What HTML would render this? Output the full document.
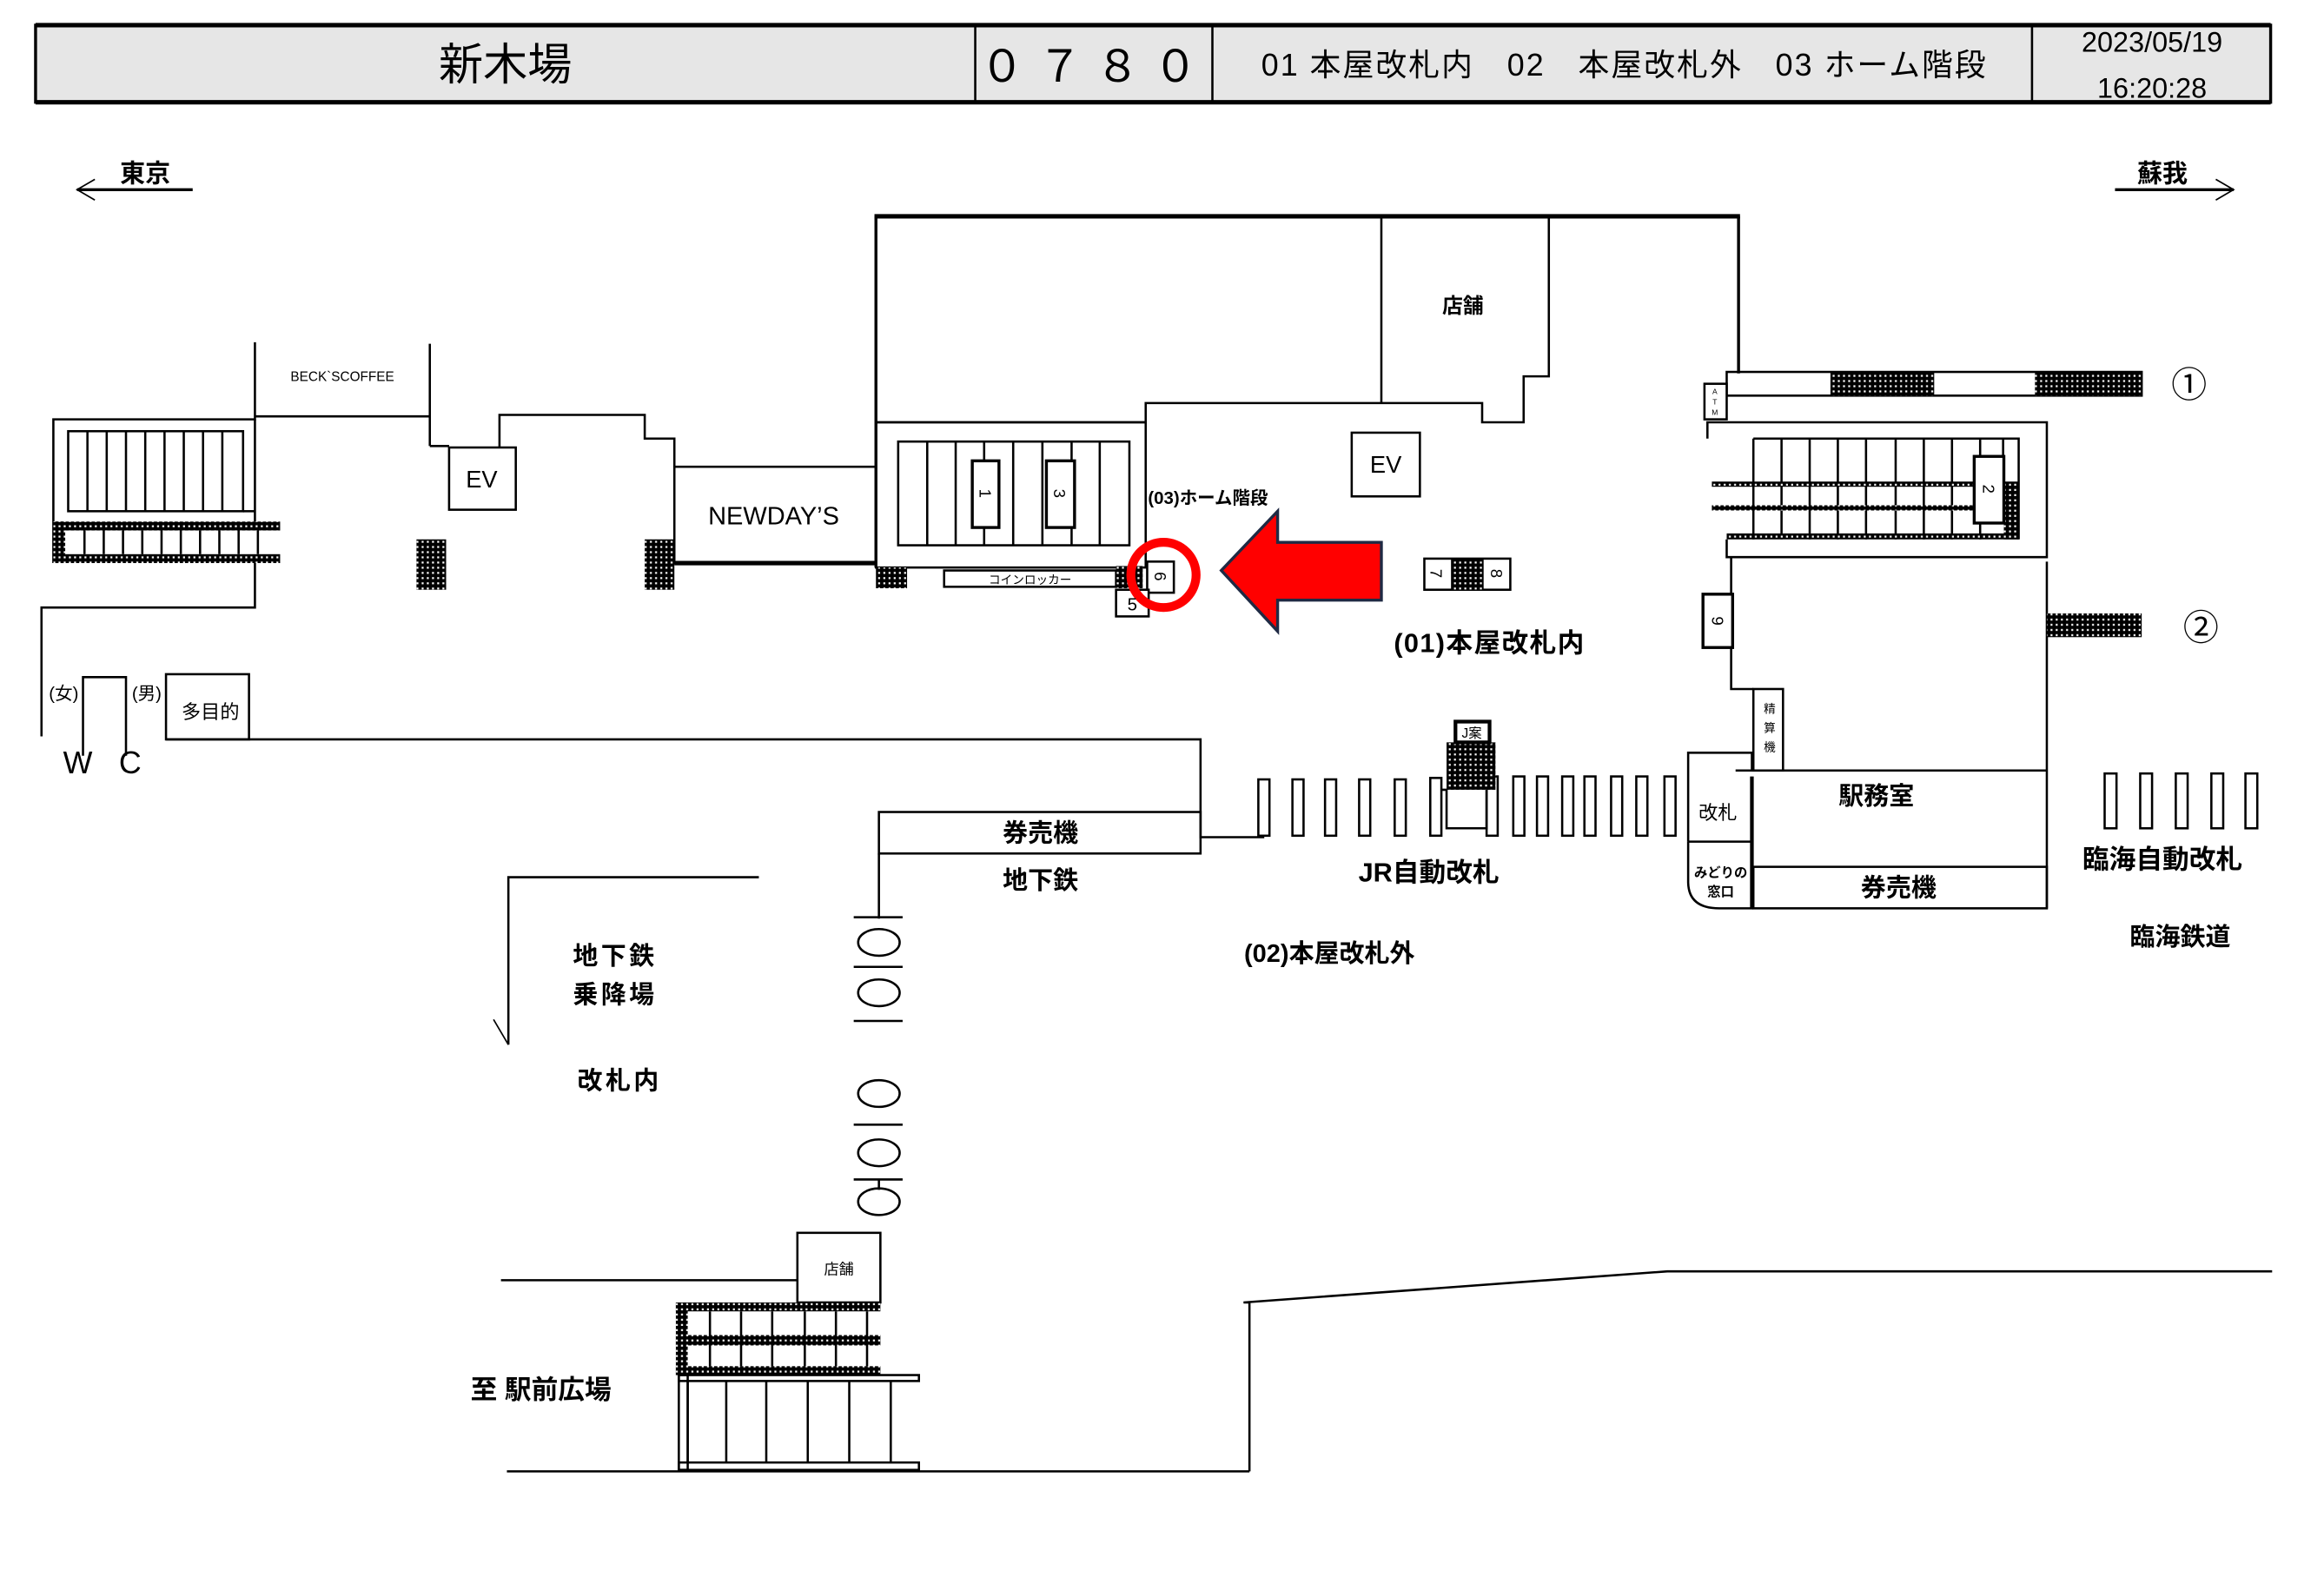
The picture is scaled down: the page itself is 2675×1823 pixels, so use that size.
<!DOCTYPE html>
<html><head><meta charset="utf-8"><style>
html,body{margin:0;padding:0;background:#fff;}
svg{display:block;}
text{font-family:"Liberation Sans","Noto Sans CJK JP",sans-serif;fill:#000;}
.b{font-weight:bold;}
</style></head><body>
<svg width="2675" height="1823" viewBox="0 0 1568 1069" preserveAspectRatio="none" xmlns="http://www.w3.org/2000/svg">
<defs>
<pattern id="h" width="3.5" height="3.5" patternUnits="userSpaceOnUse"><rect width="3.5" height="3.5" fill="#000"/><rect x="1" y="1" width="1.3" height="1.3" fill="#fff"/></pattern>
</defs>
<rect width="1568" height="1069" fill="#fff"/>
<g fill="none" stroke="#000" stroke-width="1.5">
<rect x="24" y="17" width="1508" height="52" fill="#e6e6e6" stroke-width="2"/>
<line x1="24" y1="17" x2="1532" y2="17" stroke-width="3"/>
<line x1="24" y1="69" x2="1532" y2="69" stroke-width="3"/>
<line x1="658" y1="17" x2="658" y2="69"/><line x1="818" y1="17" x2="818" y2="69"/><line x1="1371" y1="17" x2="1371" y2="69"/>
<line x1="52" y1="128" x2="130" y2="128" stroke-width="2"/><polyline points="64,121 52,128 64,135" stroke-width="1"/>
<line x1="1427" y1="128" x2="1507" y2="128" stroke-width="2"/><polyline points="1495,121 1507,128 1495,135" stroke-width="1"/>

<line x1="590" y1="146" x2="1174" y2="146" stroke-width="3"/>
<line x1="591" y1="146" x2="591" y2="383" stroke-width="2"/>
<line x1="1173" y1="146" x2="1173" y2="252" stroke-width="2"/>
<polyline points="591,285 773,285 773,272 1000,272 1000,285 1028,285 1028,254 1045,254 1045,146"/>
<line x1="932" y1="146" x2="932" y2="272"/>

<rect x="591" y="285" width="182" height="98"/>
<rect x="606" y="298" width="156" height="70"/>
<path d="M625.6 298V368M644.8 298V368M664 298V368M683.6 298V368M703.3 298V368M723 298V368M742 298V368"/>
<rect x="656" y="311" width="18" height="45" fill="#fff" stroke-width="2"/>
<rect x="706" y="311" width="19" height="45" fill="#fff" stroke-width="2"/>
<rect x="591" y="383" width="21" height="14" fill="url(#h)" stroke="none"/>
<rect x="637" y="385" width="116" height="11" fill="#fff"/>
<rect x="753" y="382" width="18" height="15" fill="url(#h)" stroke="none"/>
<rect x="774" y="379" width="18" height="21" fill="#fff"/>
<rect x="753" y="398" width="22" height="18" fill="#fff"/>

<polyline points="172,231 172,283 36,283 36,380"/>
<polyline points="172,281 290,281"/><line x1="290" y1="232" x2="290" y2="301"/>
<rect x="46" y="291" width="118" height="54"/>
<path d="M59 291V345M72 291V345M85 291V345M98 291V345M111 291V345M124 291V345M137 291V345M150 291V345"/>
<line x1="164" y1="345" x2="172" y2="345"/><line x1="172" y1="283" x2="172" y2="352"/>
<rect x="36" y="352" width="153" height="6" fill="url(#h)" stroke="none"/>
<rect x="36" y="374" width="153" height="6" fill="url(#h)" stroke="none"/>
<rect x="36" y="352" width="8" height="28" fill="url(#h)" stroke="none"/>
<path d="M57 358V374M70 358V374M83 358V374M96 358V374M109 358V374M122 358V374M135 358V374M148 358V374M161 358V374M174 358V374"/>
<polyline points="172,380 172,410 28,410 28,497"/>
<polyline points="290,301 303,301"/>
<rect x="303" y="302" width="45" height="42"/>
<polyline points="337,302 337,280 435,280 435,296 455,296 455,315"/>
<rect x="281" y="364" width="20" height="34" fill="url(#h)" stroke="none"/>
<rect x="435" y="364" width="20" height="34" fill="url(#h)" stroke="none"/>
<rect x="455" y="315" width="136" height="65"/>
<line x1="455" y1="380" x2="591" y2="380" stroke-width="3"/>
<polyline points="56,510 56,457 85,457 85,510"/>
<rect x="112" y="455" width="56" height="44"/>
<polyline points="112,499 810,499 810,565 853,565"/>
<rect x="593" y="548" width="217" height="28"/>
<line x1="593" y1="576" x2="593" y2="620"/>
<polyline points="512,592 343,592 343,705"/><line x1="333" y1="688" x2="343" y2="705" stroke-width="1"/>
<path d="M576 619H609M576 652.5H609M576 689H609M576 759H609M576 796H609M593 796V803"/>
<ellipse cx="593" cy="636" rx="14" ry="9"/><ellipse cx="593" cy="670" rx="14" ry="9"/>
<ellipse cx="593" cy="738" rx="14" ry="9"/><ellipse cx="593" cy="778" rx="14" ry="9"/><ellipse cx="593" cy="811" rx="14" ry="9"/>
<rect x="538" y="832" width="56" height="47"/>
<line x1="338" y1="864" x2="538" y2="864"/>
<rect x="456" y="879" width="138" height="6" fill="url(#h)" stroke="none"/>
<rect x="456" y="901" width="138" height="7" fill="url(#h)" stroke="none"/>
<rect x="456" y="922" width="138" height="6" fill="url(#h)" stroke="none"/>
<rect x="456" y="879" width="8" height="49" fill="url(#h)" stroke="none"/>
<path d="M479 885V922M500 885V922M521 885V922M543 885V922M564 885V922M585 885V922"/>
<rect x="458" y="928" width="162" height="4"/>
<rect x="458" y="928" width="6" height="64"/>
<rect x="458" y="987" width="162" height="5"/>
<path d="M464 932V987M490 932V987M517 932V987M545 932V987M573 932V987M601 932V987"/>
<line x1="342" y1="993" x2="843" y2="993"/>
<polyline points="843,993 843,879 839,879 1125,858 1533,858"/>

<rect x="912" y="292" width="46" height="43"/>
<rect x="961" y="377" width="58" height="21"/>
<rect x="979" y="377" width="22" height="21" fill="url(#h)" stroke="none"/>

<g fill="#fff">
<rect x="849" y="526" width="7.5" height="38"/><rect x="872" y="526" width="7.5" height="38"/><rect x="894" y="526" width="7.5" height="38"/>
<rect x="917" y="526" width="7.5" height="38"/><rect x="941" y="526" width="7.5" height="38"/><rect x="965" y="525" width="7.5" height="39"/>
<rect x="1003" y="524" width="7.5" height="40"/><rect x="1021" y="524" width="7.5" height="40"/><rect x="1037" y="524" width="7.5" height="40"/>
<rect x="1054" y="524" width="7.5" height="40"/><rect x="1069" y="524" width="7.5" height="40"/><rect x="1087" y="524" width="7.5" height="40"/>
<rect x="1104" y="524" width="7.5" height="40"/><rect x="1123" y="524" width="7.5" height="40"/>
</g>
<polyline points="972,533 976,533 976,559 1003,559 1003,533"/>
<rect x="976" y="501" width="33" height="32" fill="url(#h)" stroke="none"/>
<rect x="982" y="487" width="23" height="14" fill="#fff" stroke-width="2.5"/>

<rect x="1165" y="251" width="280" height="16"/>
<rect x="1235" y="251" width="70" height="16" fill="url(#h)" stroke="none"/>
<rect x="1373" y="251" width="72" height="16" fill="url(#h)" stroke="none"/>
<rect x="1150" y="259" width="15" height="24" fill="#fff"/>
<polyline points="1152,296 1152,285 1381,285 1381,376 1165,376 1165,364"/>
<polyline points="1183,296 1362,296 1362,364"/>
<path d="M1183 296V364M1202 296V364M1221 296V364M1240 296V364M1259 296V364M1279 296V364M1298 296V364M1317 296V364M1336 296V364M1351.5 296V325"/>
<rect x="1155" y="325" width="177" height="3.5" fill="url(#h)" stroke="none"/>
<rect x="1155" y="341" width="177" height="3.5" fill="url(#h)" stroke="none"/>
<rect x="1165" y="360" width="197" height="4" fill="url(#h)" stroke="none"/>
<rect x="1352" y="325" width="10" height="39" fill="url(#h)" stroke="none"/>
<rect x="1332" y="308" width="20" height="45" fill="#fff" stroke-width="2"/>
<polyline points="1168,376 1168,465 1183,465"/>
<rect x="1149" y="401" width="20" height="36" fill="#fff" stroke-width="2"/>
<rect x="1183" y="465" width="20" height="55" fill="#fff"/>
<line x1="1381" y1="379" x2="1381" y2="613"/>
<rect x="1381" y="414" width="64" height="16" fill="url(#h)" stroke="none"/>
<line x1="1171" y1="520" x2="1381" y2="520"/>
<polyline points="1139,568 1139,508 1182,508 1182,520"/>
<line x1="1139" y1="568" x2="1182" y2="568"/>
<path d="M1139 568V595Q1139 613 1160 613H1183"/>
<line x1="1182" y1="524" x2="1182" y2="613" stroke-width="2.5"/>
<rect x="1183" y="585" width="198" height="28"/>
<g fill="#fff">
<rect x="1420" y="522" width="8" height="37"/><rect x="1444" y="522" width="8" height="37"/><rect x="1468" y="522" width="8" height="37"/>
<rect x="1492" y="522" width="8" height="37"/><rect x="1515" y="522" width="8" height="37"/>
</g>
</g>

<polygon points="824,385 862,345 862,366 932,366 932,405 862,405 862,426" fill="#ff0000" stroke="#1f2a44" stroke-width="2"/>
<circle cx="785" cy="388" r="22" fill="none" stroke="#ff0000" stroke-width="6"/>

<text x="341" y="54" font-size="30" text-anchor="middle">新木場</text>
<text x="739" y="55" font-size="30" text-anchor="middle" letter-spacing="9">０７８０</text>
<text x="1096" y="51" font-size="21" text-anchor="middle" letter-spacing="1.2">01 本屋改札内　02　本屋改札外　03 ホーム階段</text>
<text x="1452" y="35" font-size="19" text-anchor="middle">2023/05/19</text>
<text x="1452" y="66" font-size="19" text-anchor="middle">16:20:28</text>
<text x="98" y="123" font-size="17" text-anchor="middle" class="b">東京</text>
<text x="1459" y="123" font-size="17" text-anchor="middle" class="b">蘇我</text>
<text x="231" y="257" font-size="9" text-anchor="middle">BECK`SCOFFEE</text>
<text x="325" y="329" font-size="16" text-anchor="middle">EV</text>
<text x="935" y="319" font-size="16" text-anchor="middle">EV</text>
<text x="522" y="354" font-size="17" text-anchor="middle">NEWDAY’S</text>
<text x="987" y="211" font-size="14" text-anchor="middle" class="b">店舗</text>
<text x="815" y="340" font-size="12" text-anchor="middle" class="b">(03)ホーム階段</text>
<text x="695" y="394" font-size="8" text-anchor="middle">コインロッカー</text>
<text x="1005" y="440" font-size="18" text-anchor="middle" letter-spacing="0.8" class="b">(01)本屋改札内</text>
<text x="43" y="472" font-size="12" text-anchor="middle" fill="#333">(女)</text>
<text x="99" y="472" font-size="12" text-anchor="middle" fill="#333">(男)</text>
<text x="142" y="485" font-size="13" text-anchor="middle">多目的</text>
<text x="72" y="522" font-size="21" text-anchor="middle" font-family="Liberation Serif" fill="#555" letter-spacing="6">W C</text>
<text x="702" y="568" font-size="17" text-anchor="middle" class="b">券売機</text>
<text x="702" y="600" font-size="17" text-anchor="middle" class="b">地下鉄</text>
<text x="964" y="595" font-size="18" text-anchor="middle" class="b">JR自動改札</text>
<text x="897" y="649" font-size="17" text-anchor="middle" class="b">(02)本屋改札外</text>
<text x="415" y="651" font-size="17" text-anchor="middle" letter-spacing="2" class="b">地下鉄</text>
<text x="415" y="677" font-size="17" text-anchor="middle" letter-spacing="2" class="b">乗降場</text>
<text x="418" y="735" font-size="17" text-anchor="middle" letter-spacing="2" class="b">改札内</text>
<text x="566" y="860" font-size="10" text-anchor="middle">店舗</text>
<text x="365" y="944" font-size="18" text-anchor="middle" class="b">至 駅前広場</text>
<text x="1477" y="268" font-size="24" text-anchor="middle">①</text>
<text x="1485" y="432" font-size="24" text-anchor="middle">②</text>
<text x="1266" y="543" font-size="17" text-anchor="middle" class="b">駅務室</text>
<text x="1159" y="553" font-size="13" text-anchor="middle" fill="#333">改札</text>
<text x="1161" y="592" font-size="9" text-anchor="middle" class="b">みどりの</text>
<text x="1161" y="605" font-size="9" text-anchor="middle" class="b">窓口</text>
<text x="1281" y="605" font-size="17" text-anchor="middle" class="b">券売機</text>
<text x="1459" y="586" font-size="18" text-anchor="middle" class="b">臨海自動改札</text>
<text x="1471" y="638" font-size="17" text-anchor="middle" class="b">臨海鉄道</text>
<text x="1194" y="481" font-size="8" text-anchor="middle">精</text>
<text x="1194" y="494" font-size="8" text-anchor="middle">算</text>
<text x="1194" y="507" font-size="8" text-anchor="middle">機</text>
<text x="993" y="498" font-size="9" text-anchor="middle">J案</text>
<text x="1157" y="266" font-size="5" text-anchor="middle">A</text>
<text x="1157" y="273" font-size="5" text-anchor="middle">T</text>
<text x="1157" y="280" font-size="5" text-anchor="middle">M</text>
<text x="764" y="412" font-size="12" text-anchor="middle">5</text>
<g font-size="11" text-anchor="middle">
<text transform="translate(665,333) rotate(90)" dy="4">1</text>
<text transform="translate(715,333) rotate(90)" dy="4">3</text>
<text transform="translate(783,389) rotate(90)" dy="4">6</text>
<text transform="translate(969,387) rotate(90)" dy="4">7</text>
<text transform="translate(1010,387) rotate(90)" dy="4">8</text>
<text transform="translate(1342,330) rotate(90)" dy="4">2</text>
<text transform="translate(1159,419) rotate(90)" dy="4">9</text>
</g>
</svg>
</body></html>
